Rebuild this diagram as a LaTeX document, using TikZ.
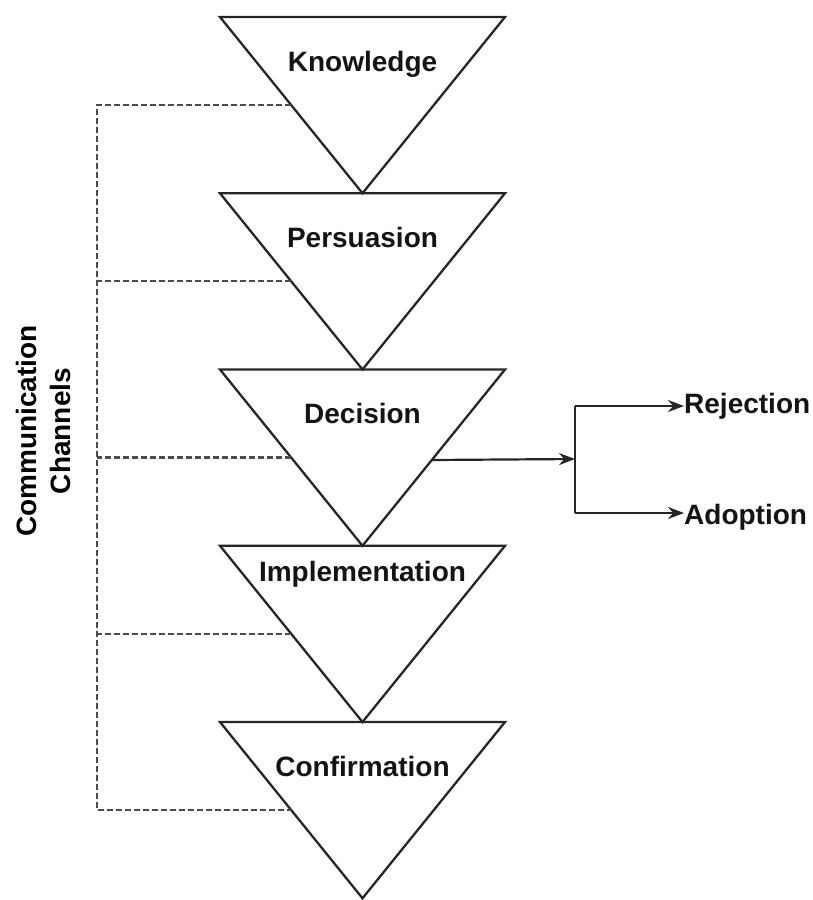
\documentclass[tikz,border=0pt]{standalone}
\usepackage{fontspec}
\setmainfont{Liberation Sans}
\usetikzlibrary{arrows.meta}
\begin{document}
\begin{tikzpicture}[x=1pt,y=-1pt,
  stage/.style={draw=black!85, line width=2.3pt, line join=miter},
  stagetext/.style={font=\fontsize{28}{34}\selectfont\bfseries, inner sep=0pt, text=black!92, anchor=base},
  channel/.style={draw=black!70, line width=2.1pt, dash pattern=on 6pt off 3pt},
  flow/.style={draw=black!85, line width=2.2pt, -{Stealth[length=16pt,width=12pt]}}]
\useasboundingbox (0,0) rectangle (813,900);
% five stacked inverted triangles, each with its stage name
\foreach \name/\txt/\base [count=\i from 0] in
  {know/Knowledge/54, pers/Persuasion/54, deci/Decision/54, impl/Implementation/36, conf/Confirmation/54}{
  \pgfmathsetmacro\ytop{17+176.25*\i}
  \coordinate (\name-l) at (220,\ytop);
  \coordinate (\name-r) at (505,\ytop);
  \coordinate (\name-a) at (362.5,\ytop+176.25);
  \draw[stage] (\name-l) -- (\name-r) -- (\name-a) -- cycle;
  \node[stagetext] (\name) at (362.5,\ytop+\base) {\txt};
  \coordinate (\name-c) at (291.25,\ytop+88);
}
% communication channels rail
\coordinate (rail) at (97,0);
\draw[channel] (know-c) -- (know-c -| rail) -- (conf-c -| rail) -- (conf-c);
\draw[channel] (pers-c) -- (pers-c -| rail);
\draw[channel] (deci-c) -- (deci-c -| rail);
\draw[channel] (impl-c) -- (impl-c -| rail);
\node[font=\fontsize{28}{34}\selectfont\bfseries, align=center, rotate=90, inner sep=0pt] (chan) at (43,431) {Communication\\Channels};
% decision outcome
\coordinate (deci-e) at (432,460);
\coordinate (split) at (575,459);
\coordinate (split-t) at (575,406);
\coordinate (split-b) at (575,513);
\node[stagetext, anchor=base west] (rej) at (684,413) {Rejection};
\node[stagetext, anchor=base west] (adp) at (684,524) {Adoption};
\draw[flow] (deci-e) -- (split);
\draw[draw=black!85, line width=2.2pt] (split-t) -- (split-b);
\draw[flow] (split-t) -- (split-t -| rej.west);
\draw[flow] (split-b) -- (split-b -| adp.west);
\end{tikzpicture}
\end{document}
